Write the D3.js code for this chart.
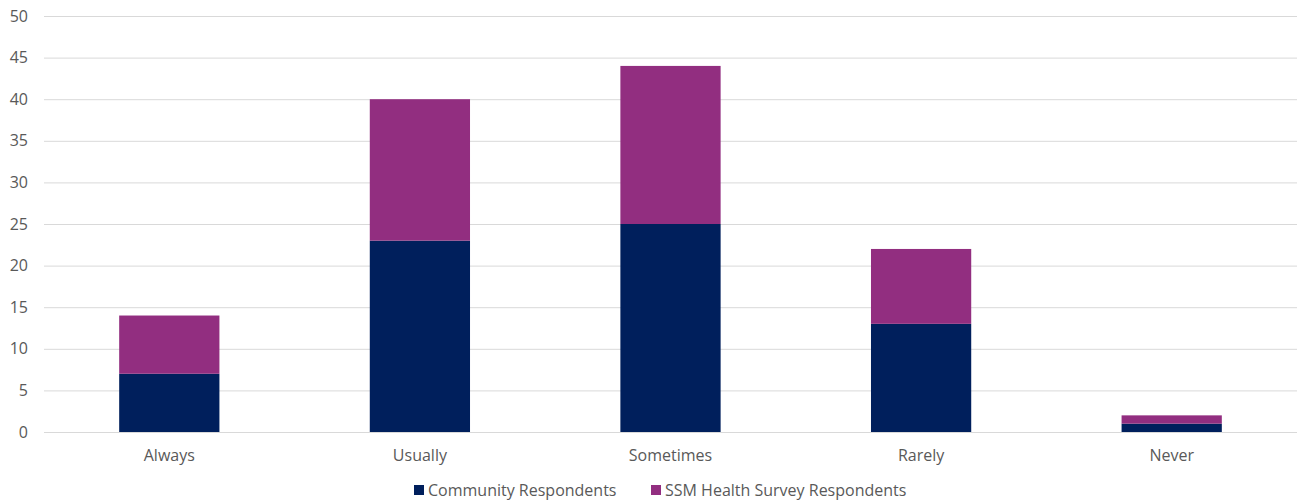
<!DOCTYPE html>
<html><head><meta charset="utf-8">
<script src="https://cdn.jsdelivr.net/npm/d3@7"></script>
<style>body{margin:0;background:#fff;} svg{display:block;font-family:"Open Sans","Liberation Sans",sans-serif;}</style>
</head><body>
<svg id="c" width="1298" height="504"></svg>
<script>
const categories = ["Always","Usually","Sometimes","Rarely","Never"];
const community = [7,23,25,13,1];
const ssm = [7,17,19,9,1];
const seriesNames = ["Community Respondents","SSM Health Survey Respondents"];
const colors = ["#001F5C","#922E80"];
const yTicks = [0,5,10,15,20,25,30,35,40,45,50];

const svg = d3.select("#c");
const m = {l:44, r:1, t:16, b:72};
const W = 1298, H = 504;
const x = d3.scaleBand().domain(categories).range([m.l, W-m.r]).paddingInner(0.6).paddingOuter(0.3);
const y = d3.scaleLinear().domain([0,50]).range([H-m.b, m.t]);

const rows = categories.map((c,i)=>({cat:c, s0:community[i], s1:ssm[i]}));
const stack = d3.stack().keys(["s0","s1"])(rows);

svg.append("g").selectAll("line").data(yTicks).join("line")
  .attr("x1", m.l).attr("x2", W-m.r)
  .attr("y1", d=>y(d)+0.5).attr("y2", d=>y(d)+0.5)
  .attr("stroke","#d9d9d9").attr("stroke-width",1);

svg.append("g").selectAll("text").data(yTicks).join("text")
  .attr("x", 28).attr("y", d=>y(d)).attr("dy","0.35em")
  .attr("text-anchor","end").attr("fill","#595959").attr("font-size",16)
  .text(d=>d);

stack.forEach((layer,k)=>{
  svg.append("g").selectAll("rect").data(layer).join("rect")
    .attr("x", d=>x(d.data.cat)).attr("width", x.bandwidth())
    .attr("y", d=>y(d[1])).attr("height", d=>y(d[0])-y(d[1]))
    .attr("fill", colors[k]);
});

svg.append("g").selectAll("text").data(categories).join("text")
  .attr("x", d=>x(d)+x.bandwidth()/2).attr("y", H-m.b+23).attr("dy","0.35em")
  .attr("text-anchor","middle").attr("fill","#595959").attr("font-size",16)
  .text(d=>d);

const legend = svg.append("g");
const items = [{x:414, name:seriesNames[0], c:colors[0]},{x:651, name:seriesNames[1], c:colors[1]}];
items.forEach(it=>{
  legend.append("rect").attr("x",it.x).attr("y",485).attr("width",10).attr("height",10).attr("fill",it.c);
  legend.append("text").attr("x",it.x+14).attr("y",490).attr("dy","0.35em")
    .attr("fill","#595959").attr("font-size",16).text(it.name);
});
</script>
</body></html>
